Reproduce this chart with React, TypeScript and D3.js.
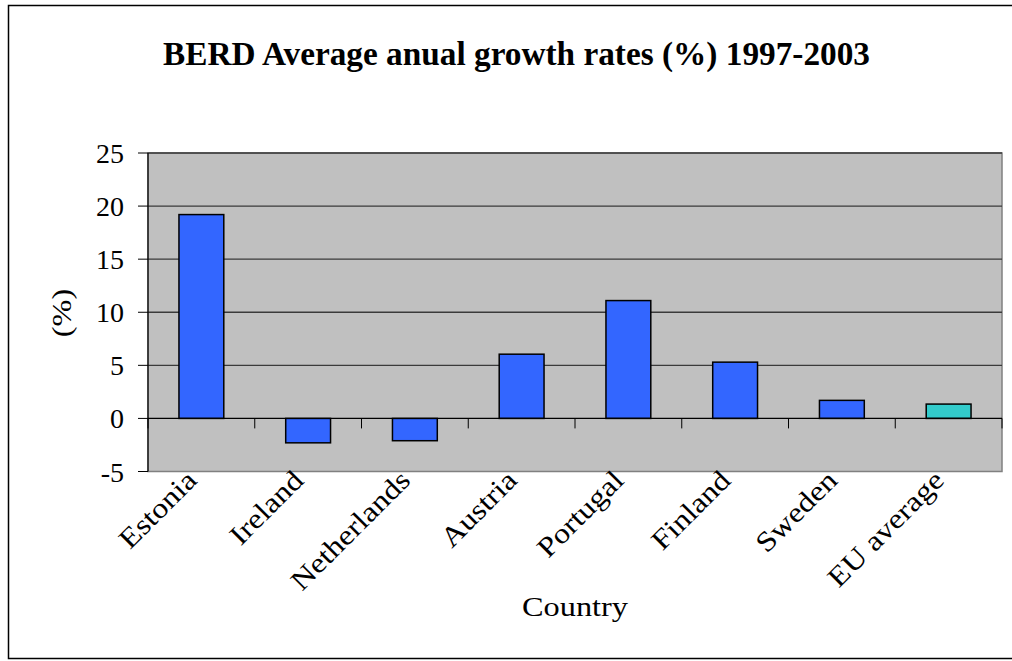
import React from "react";
import * as d3 from "d3";

const categories = ["Estonia", "Ireland", "Netherlands", "Austria", "Portugal", "Finland", "Sweden", "EU average"];
const growthRates = [19.2, -2.3, -2.1, 6.05, 11.1, 5.3, 1.7, 1.35];
const yTicks = [-5, 0, 5, 10, 15, 20, 25];

const W = 1012;
const H = 661;
const plot = { left: 148, top: 153, right: 1002, bottom: 471.5 };
const FONT = "'Liberation Serif', 'DejaVu Serif', serif";
// horizontal widening applied to body text so the Times-like face reads as wide as a book face
const WIDEN = 1.15;

export default function App() {
  const x = d3.scaleBand<string>().domain(categories).range([plot.left, plot.right]).paddingInner(0).paddingOuter(0);
  const y = d3.scaleLinear().domain([-5, 25]).range([plot.bottom, plot.top]);
  const barW = x.bandwidth() * 0.42;
  const y0 = y(0);

  return (
    <svg width={W} height={H} style={{ position: "absolute", left: 0, top: 0, background: "#fff" }} fontFamily={FONT}>
      {/* outer frame */}
      <rect x={8.5} y={5.5} width={1010} height={653} fill="#fff" stroke="#000" strokeWidth={1.5} />

      <text x={516.5} y={65} textAnchor="middle" fontSize={33} fontWeight="bold" textLength={707} lengthAdjust="spacingAndGlyphs">
        BERD Average anual growth rates (%) 1997-2003
      </text>

      {/* plot area */}
      <rect x={plot.left} y={plot.top} width={plot.right - plot.left} height={plot.bottom - plot.top} fill="#c0c0c0" stroke="#808080" strokeWidth={1.5} />

      {/* gridlines */}
      {yTicks.filter((t) => t !== 0 && t !== -5).map((t) => (
        <line key={t} x1={plot.left} x2={plot.right} y1={y(t)} y2={y(t)} stroke="#3a3a3a" strokeWidth={1.3} />
      ))}

      {/* bars */}
      {categories.map((c, i) => {
        const v = growthRates[i];
        const cx = (x(c) as number) + x.bandwidth() / 2;
        return (
          <rect
            key={c}
            x={cx - barW / 2}
            y={Math.min(y(v), y0)}
            width={barW}
            height={Math.abs(y(v) - y0)}
            fill={c === "EU average" ? "#33cccc" : "#3366ff"}
            stroke="#000"
            strokeWidth={1.5}
          />
        );
      })}

      {/* x axis at zero */}
      <line x1={plot.left} x2={plot.right} y1={y0} y2={y0} stroke="#000" strokeWidth={1.2} />
      {categories.map((c, i) => (
        <line key={"xt" + i} x1={(x(c) as number)} x2={(x(c) as number)} y1={y0} y2={y0 + 10} stroke="#000" strokeWidth={1} />
      ))}
      <line x1={plot.right} x2={plot.right} y1={y0} y2={y0 + 10} stroke="#000" strokeWidth={1} />

      {/* y axis */}
      <line x1={plot.left} x2={plot.left} y1={plot.top} y2={plot.bottom} stroke="#000" strokeWidth={1.2} />
      {yTicks.map((t) => (
        <g key={"yt" + t}>
          <line x1={plot.left - 10} x2={plot.left} y1={y(t)} y2={y(t)} stroke="#000" strokeWidth={1} />
          <text x={124} y={y(t) + 10} textAnchor="end" fontSize={28}>
            {t}
          </text>
        </g>
      ))}

      {/* category labels */}
      {categories.map((c) => {
        const cx = (x(c) as number) + x.bandwidth() / 2;
        const lx = cx - 3;
        const ly = plot.bottom + 10.5;
        return (
          <text key={"cl" + c} x={0} y={0} textAnchor="end" fontSize={28} transform={`translate(${lx} ${ly}) rotate(-45) scale(${WIDEN} 1)`}>
            {c}
          </text>
        );
      })}

      <text x={575} y={616} textAnchor="middle" fontSize={28} textLength={106} lengthAdjust="spacingAndGlyphs">
        Country
      </text>
      <text x={0} y={0} textAnchor="middle" fontSize={28} transform={`translate(71 313) rotate(-90) scale(${WIDEN} 1)`}>
        (%)
      </text>
    </svg>
  );
}
